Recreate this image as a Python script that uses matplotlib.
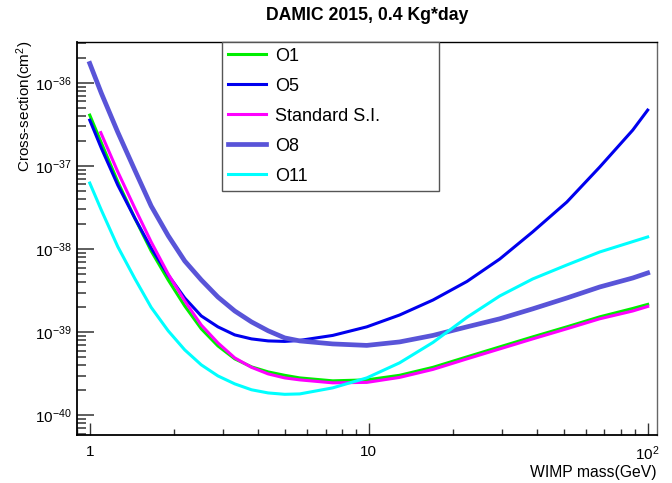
import numpy as np
import matplotlib
matplotlib.use('Agg')
import matplotlib.pyplot as plt
from matplotlib.ticker import LogLocator, NullFormatter, FixedLocator, FixedFormatter

plt.rcParams['font.family'] = ['Liberation Sans', 'DejaVu Sans']
plt.rcParams['mathtext.fontset'] = 'custom'
plt.rcParams['mathtext.rm'] = 'Liberation Sans'
plt.rcParams['mathtext.it'] = 'Liberation Sans:italic'
plt.rcParams['mathtext.bf'] = 'Liberation Sans:bold'

# WIMP mass (GeV) and cross-section limits (cm^2)
mass = [1.0, 1.1, 1.26, 1.45, 1.66, 1.91, 2.19, 2.51, 2.88, 3.31, 3.8, 4.36, 5.0,
        5.66, 7.43, 9.84, 12.9, 17.0, 22.5, 29.5, 38.7, 51.3, 67.3, 88.4, 100.0]
mass_si = [1.095, 1.26, 1.45, 1.66, 1.91, 2.19, 2.51, 2.88, 3.31, 3.8, 4.36, 5.0,
           5.66, 7.43, 9.84, 12.9, 17.0, 22.5, 29.5, 38.7, 51.3, 67.3, 88.4, 100.0]

s_o1 = [4.09e-37, 1.90e-37, 6.46e-38, 2.36e-38, 9.49e-39, 4.26e-39, 2.07e-39, 1.10e-39,
        6.84e-40, 4.78e-40, 3.83e-40, 3.33e-40, 3.03e-40, 2.82e-40, 2.60e-40, 2.67e-40,
        3.03e-40, 3.78e-40, 5.05e-40, 6.66e-40, 8.78e-40, 1.16e-39, 1.53e-39, 1.93e-39,
        2.16e-39]
s_o5 = [3.56e-37, 1.64e-37, 5.89e-38, 2.36e-38, 1.03e-38, 4.88e-39, 2.58e-39, 1.57e-39,
        1.16e-39, 9.28e-40, 8.31e-40, 7.86e-40, 7.75e-40, 7.97e-40, 9.15e-40, 1.16e-39,
        1.61e-39, 2.44e-39, 4.08e-39, 7.60e-39, 1.61e-38, 3.68e-38, 9.70e-38, 2.70e-37,
        4.70e-37]
s_si = [2.52e-37, 8.52e-38, 3.12e-38, 1.22e-38, 5.02e-39, 2.38e-39, 1.22e-39, 7.44e-40,
        4.91e-40, 3.78e-40, 3.15e-40, 2.82e-40, 2.67e-40, 2.46e-40, 2.49e-40, 2.86e-40,
        3.57e-40, 4.78e-40, 6.30e-40, 8.31e-40, 1.10e-39, 1.45e-39, 1.80e-39, 2.04e-39]
s_o8 = [1.71e-36, 7.52e-37, 2.55e-37, 8.93e-38, 3.30e-38, 1.45e-38, 7.19e-39, 4.26e-39,
        2.65e-39, 1.80e-39, 1.33e-39, 1.04e-39, 8.54e-40, 7.86e-40, 7.23e-40, 6.94e-40,
        7.64e-40, 9.15e-40, 1.16e-39, 1.45e-39, 1.91e-39, 2.58e-39, 3.50e-39, 4.49e-39,
        5.16e-39]
s_o11 = [6.23e-38, 2.95e-38, 1.07e-38, 4.43e-39, 1.99e-39, 1.04e-39, 6.13e-40, 4.05e-40,
         2.98e-40, 2.39e-40, 2.03e-40, 1.86e-40, 1.79e-40, 1.81e-40, 2.14e-40, 2.82e-40,
         4.28e-40, 7.54e-40, 1.51e-39, 2.73e-39, 4.37e-39, 6.44e-39, 9.23e-39, 1.23e-38,
         1.40e-38]

x_ticks = [1, 10, 100]
x_ticklabels = ['1', '10', '$10^{2}$']
y_ticks = [1e-40, 1e-39, 1e-38, 1e-37, 1e-36]
y_ticklabels = ['$10^{-40}$', '$10^{-39}$', '$10^{-38}$', '$10^{-37}$', '$10^{-36}$']

fig = plt.figure(figsize=(6.72, 4.83), dpi=100)
ax = fig.add_axes([77/672, 48/483, 580/672, 393/483])

ax.plot(mass, s_o1, color='#00ee00', lw=2.2, label='O1')
ax.plot(mass, s_o5, color='#0000ee', lw=2.2, label='O5')
ax.plot(mass_si, s_si, color='#ff00ff', lw=2.2, label='Standard S.I.')
ax.plot(mass, s_o8, color='#5954d8', lw=3.4, label='O8')
ax.plot(mass, s_o11, color='#00ffff', lw=2.2, label='O11')

ax.set_xscale('log')
ax.set_yscale('log')
ax.set_xlim(0.9, 108)
ax.set_ylim(5.8e-41, 3.1e-36)

ax.xaxis.set_major_locator(FixedLocator(x_ticks))
ax.xaxis.set_major_formatter(FixedFormatter(x_ticklabels))
ax.xaxis.set_minor_locator(LogLocator(base=10, subs=np.arange(2, 10), numticks=20))
ax.xaxis.set_minor_formatter(NullFormatter())
ax.yaxis.set_major_locator(FixedLocator(y_ticks))
ax.yaxis.set_major_formatter(FixedFormatter(y_ticklabels))
ax.yaxis.set_minor_locator(LogLocator(base=10, subs=np.arange(2, 10), numticks=50))
ax.yaxis.set_minor_formatter(NullFormatter())

ax.tick_params(axis='both', which='both', direction='in', top=False, right=False,
               labelsize=11, color='#333333')
ax.tick_params(axis='y', which='major', length=12, width=1.1, pad=4)
ax.tick_params(axis='y', which='minor', length=6.5, width=1.1)
ax.tick_params(axis='x', which='major', length=8.5, width=1.0, pad=7)
ax.tick_params(axis='x', which='minor', length=4.3, width=1.0)

for side in ['left', 'bottom']:
    ax.spines[side].set_linewidth(1.3)
ax.spines['top'].set_linewidth(1.0)
ax.spines['right'].set_linewidth(1.0)
ax.spines['right'].set_color('#666666')

fig.text(367/672, 1 - 15/483, 'DAMIC 2015, 0.4 Kg*day', ha='center', va='center',
         fontsize=12.7, fontweight='bold')
fig.text(657/672, 1 - 473/483, 'WIMP mass(GeV)', ha='right', va='center', fontsize=11.3)
fig.text(25/672, 1 - 41/483, 'Cross-section(cm$^{2}$)', ha='center', va='top',
         rotation=90, fontsize=11)

leg = ax.legend(loc='upper left', bbox_to_anchor=(222/672, 1 - 188/483, 217/672, 146/483),
                bbox_transform=fig.transFigure, mode='expand', fontsize=13,
                frameon=True, fancybox=False, borderpad=0.32, labelspacing=0.72,
                handlelength=2.1, handletextpad=0.5, borderaxespad=0)
leg.get_frame().set_edgecolor('#555555')
leg.get_frame().set_linewidth(1.0)
leg.get_frame().set_alpha(1)

fig.savefig('out.png', dpi=100)
